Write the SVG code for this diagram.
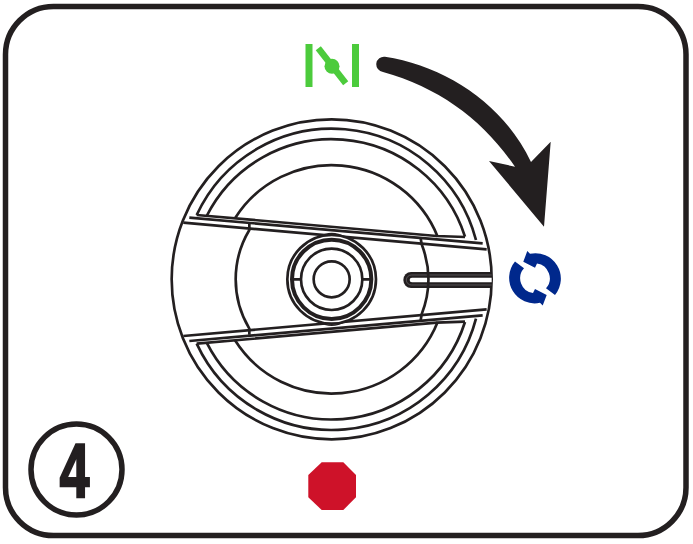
<svg xmlns="http://www.w3.org/2000/svg" width="693" height="544" viewBox="0 0 693 544">
<style>
.k{fill:none;stroke:#231f20;stroke-width:8}
.w{fill:#fff;stroke:#231f20;stroke-width:8}
</style>
<defs>
<g id="half">
<path class="k" d="M80 315A447 447 0 0 1 918 390"/>
<path class="k" d="M110 318A420 420 0 0 1 885 380"/>
<path class="k" d="M195 325A343 343 0 0 1 803 380"/>
<path class="k" d="M80 315L800 378L885 381"/>
<path class="k" d="M58 323L938 400"/>
<path class="k" d="M40 338L950 418"/>
</g>
<path id="spin" fill="#00288c" d="M523.3 261.7L527.3 251L530 253.8A25.5 25.5 0 0 1 555 295L546 288.3A15 15 0 0 0 537 263.5L535 267.7Z"/>
</defs>
<rect id="frame" x="5.5" y="6.5" width="680.5" height="529" rx="48" fill="#fff" stroke="#231f20" stroke-width="5.5"/>
<g id="knob" transform="translate(170 110) scale(.33333)">
<circle class="k" cx="485" cy="508" r="480"/>
<use href="#half"/>
<use href="#half" transform="translate(0 1016) scale(1 -1)"/>
<path d="M700 510A23 24 0 0 1 723 486H965V534H723A23 24 0 0 1 700 510Z" fill="#231f20"/>
<path d="M726 503H965V517H726A7 7 0 0 1 726 503Z" fill="#fff"/>
<path d="M965 495H724A15 15 0 0 0 724 525H965" fill="none" stroke="#8a8889" stroke-width="1.5"/>
<path class="k" d="M238 342L238 360A288 288 0 0 0 238 656L238 674"/>
<path class="k" d="M752 385L755 403A290 290 0 0 1 755 613L752 631"/>
<path class="w" style="stroke-width:4" d="M445 382Q485 358 525 382L610 470V546L525 634Q485 658 445 634L360 546V470Z"/>
<circle class="w" cx="485" cy="508" r="133"/>
<circle class="k" cx="485" cy="508" r="119" style="stroke-width:12"/>
<circle class="k" cx="485" cy="508" r="92"/>
<circle class="k" cx="485" cy="508" r="54"/>
<path class="k" d="M370 508H393M577 508H600"/>
</g>
<g id="open-icon" fill="#4ccb3c">
<rect x="305.5" y="44" width="7" height="43"/>
<rect x="352" y="44" width="7" height="43"/>
<path d="M318.3 48.3L345.7 83.3" stroke="#4ccb3c" stroke-width="6.5" fill="none"/>
<circle cx="332" cy="66.3" r="7.5"/>
</g>
<g id="arrow">
<path fill="#231f20" d="M385 56.7C445 66 503 103 531 162L550.7 141.7L544 226.7L489 161L515 166.7C483 120 440 88 383 72A7.6 7.6 0 0 1 385 56.7Z"/>
</g>
<g id="rotate-icon">
<use href="#spin"/>
<use href="#spin" transform="rotate(180 535 278.3)"/>
</g>
<polygon id="stop" fill="#ce1229" points="321.7,462.3 343.3,462.3 356,475 356,497.3 343.3,510 321.7,510 308.3,497.3 308.3,475"/>
<g id="step">
<circle cx="76.5" cy="469.5" r="45.5" fill="none" stroke="#231f20" stroke-width="5.5"/>
<text transform="translate(74.5 497.3) scale(.7 1)" text-anchor="middle" font-family="'Liberation Sans',Arial,sans-serif" font-weight="700" font-size="76" fill="#231f20" stroke="#231f20" stroke-width="2.6">4</text>
</g>
</svg>
